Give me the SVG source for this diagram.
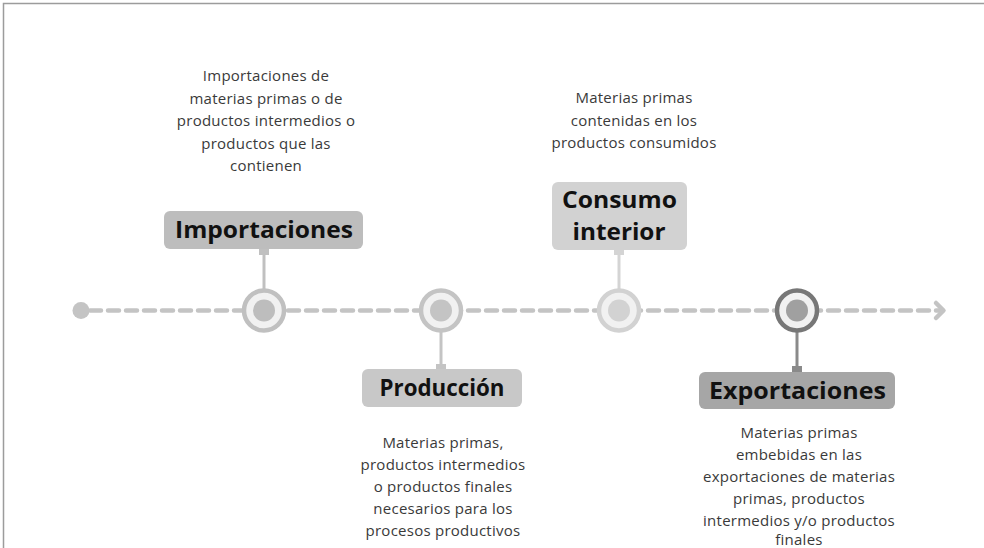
<svg xmlns="http://www.w3.org/2000/svg" width="984" height="548" viewBox="0 0 984 548">
<style>
.desc{font-family:"Open Sans","Liberation Sans",sans-serif;font-size:15px;letter-spacing:0.25px;fill:#3a3a3a;text-anchor:middle}
.ttl{font-family:"Open Sans","Liberation Sans",sans-serif;font-size:23px;font-weight:700;fill:#111;text-anchor:middle}
.dash{fill:none;stroke:#c4c4c4;stroke-width:4.5;stroke-linecap:round}
</style>
<rect width="984" height="548" fill="#fff"/>
<path d="M3.5,548 V3.5 H984" fill="none" stroke="#9c9c9c" stroke-width="1.5"/>
<g id="connectors">
<line class="dash" x1="90" y1="310.5" x2="940" y2="310.5" stroke-dasharray="11 7"/>
<polyline class="dash" points="936,303 943.5,310.5 936,318" stroke-linejoin="round"/>
<circle cx="81" cy="310.5" r="8.5" fill="#c4c4c4"/>
<line x1="264" y1="250" x2="264" y2="289" stroke="#c0c0c0" stroke-width="3"/>
<rect x="259" y="249" width="10" height="6" fill="#c0c0c0"/>
<line x1="441" y1="332" x2="441" y2="369" stroke="#c4c4c4" stroke-width="3"/>
<rect x="436" y="364" width="10" height="6" fill="#c4c4c4"/>
<line x1="619" y1="250" x2="619" y2="289" stroke="#d4d4d4" stroke-width="3"/>
<rect x="614" y="249" width="10" height="6" fill="#d4d4d4"/>
<line x1="797" y1="332" x2="797" y2="372" stroke="#8a8a8a" stroke-width="3"/>
<rect x="792" y="366" width="10" height="7" fill="#8a8a8a"/>
</g>
<g id="importaciones">
<circle cx="264" cy="310.5" r="20" fill="#f1f1f1" stroke="#c0c0c0" stroke-width="4.5"/>
<circle cx="264" cy="310.5" r="11" fill="#bdbdbd"/>
<rect x="164" y="211" width="199" height="38" rx="6" fill="#bdbdbd"/>
<text class="ttl" x="264" y="238" textLength="178" lengthAdjust="spacingAndGlyphs">Importaciones</text>
<text class="desc" x="266" y="81">Importaciones  de</text>
<text class="desc" x="266" y="103.5">materias primas o de</text>
<text class="desc" x="266" y="126">productos intermedios o</text>
<text class="desc" x="266" y="148.5">productos que las</text>
<text class="desc" x="266" y="171">contienen</text>
</g>
<g id="produccion">
<circle cx="441" cy="310.5" r="20" fill="#f1f1f1" stroke="#c4c4c4" stroke-width="4.5"/>
<circle cx="441" cy="310.5" r="11" fill="#c4c4c4"/>
<rect x="362" y="369" width="160" height="38" rx="6" fill="#c8c8c8"/>
<text class="ttl" x="442" y="396" textLength="125" lengthAdjust="spacingAndGlyphs">Producción</text>
<text class="desc" x="443" y="448">Materias primas,</text>
<text class="desc" x="443" y="470">productos intermedios</text>
<text class="desc" x="443" y="492">o productos finales</text>
<text class="desc" x="443" y="514">necesarios para los</text>
<text class="desc" x="443" y="536">procesos productivos</text>
</g>
<g id="consumo">
<circle cx="619" cy="310.5" r="20" fill="#f1f1f1" stroke="#d2d2d2" stroke-width="4.5"/>
<circle cx="619" cy="310.5" r="11" fill="#d2d2d2"/>
<rect x="552" y="182" width="135" height="68" rx="6" fill="#d2d2d2"/>
<text class="ttl" x="619.5" y="208" textLength="115" lengthAdjust="spacingAndGlyphs">Consumo</text>
<text class="ttl" x="619" y="240" textLength="93" lengthAdjust="spacingAndGlyphs">interior</text>
<text class="desc" x="634" y="103">Materias primas</text>
<text class="desc" x="634" y="126">contenidas en los</text>
<text class="desc" x="634" y="148">productos consumidos</text>
</g>
<g id="exportaciones">
<circle cx="797" cy="310.5" r="20" fill="#f1f1f1" stroke="#777" stroke-width="4.5"/>
<circle cx="797" cy="310.5" r="11" fill="#a0a0a0"/>
<rect x="699" y="372" width="196" height="37" rx="6" fill="#a6a6a6"/>
<text class="ttl" x="797.5" y="399" textLength="177" lengthAdjust="spacingAndGlyphs">Exportaciones</text>
<text class="desc" x="799" y="438">Materias primas</text>
<text class="desc" x="799" y="460">embebidas en las</text>
<text class="desc" x="799" y="482">exportaciones de materias</text>
<text class="desc" x="799" y="504">primas, productos</text>
<text class="desc" x="799" y="526">intermedios y/o productos</text>
<text class="desc" x="799" y="545">finales</text>
</g>
</svg>
